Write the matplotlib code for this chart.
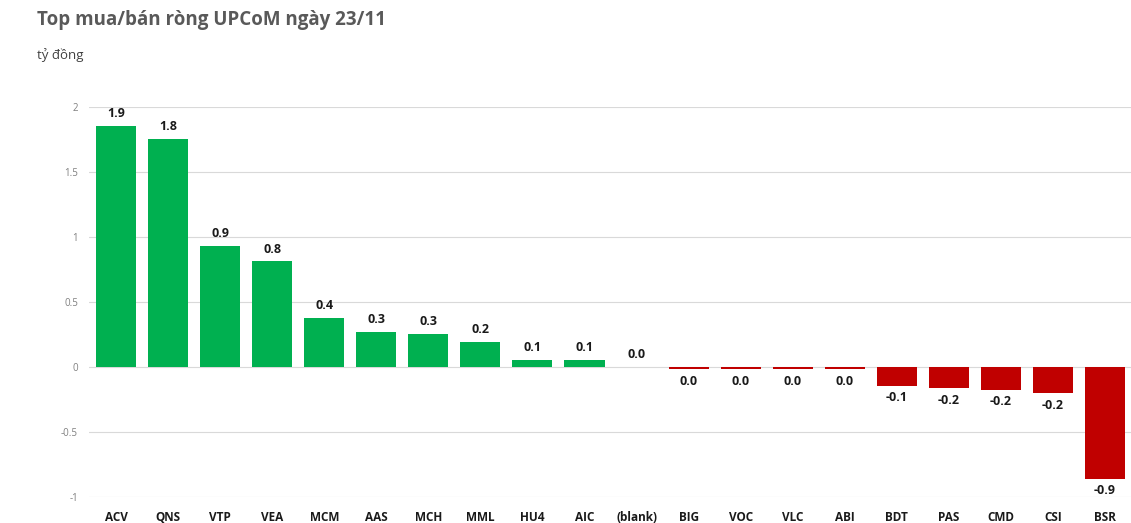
import matplotlib.pyplot as plt

tickers = ['ACV', 'QNS', 'VTP', 'VEA', 'MCM', 'AAS', 'MCH', 'MML', 'HU4', 'AIC',
           '(blank)', 'BIG', 'VOC', 'VLC', 'ABI', 'BDT', 'PAS', 'CMD', 'CSI', 'BSR']
values = [1.856, 1.754, 0.933, 0.815, 0.377, 0.269, 0.254, 0.192, 0.054, 0.054,
          0.0, -0.015, -0.015, -0.015, -0.015, -0.145, -0.165, -0.175, -0.2, -0.86]
yticks = [-1, -0.5, 0, 0.5, 1, 1.5, 2]
ytick_labels = ['-1', '-0.5', '0', '0.5', '1', '1.5', '2']

green = '#00B050'
red = '#C00000'
font = 'Open Sans'

fig = plt.figure(figsize=(11.31, 5.23), dpi=100)
ax = fig.add_axes([0.0787, 0.0497, 0.9213, 0.7457])

x = list(range(len(tickers)))
colors = [green if v >= 0 else red for v in values]
ax.bar(x, values, width=0.77, color=colors, zorder=3)

for xi, v in zip(x, values):
    lab = f"{v:.1f}"
    if lab == '-0.0':
        lab = '0.0'
    if v >= 0:
        ax.annotate(lab, (xi, v), xytext=(0, 4), textcoords='offset points',
                    ha='center', va='bottom', fontsize=9, fontweight='bold',
                    color='#1a1a1a', family=font)
    else:
        ax.annotate(lab, (xi, v), xytext=(0, -4), textcoords='offset points',
                    ha='center', va='top', fontsize=9, fontweight='bold',
                    color='#1a1a1a', family=font)

ax.set_xlim(-0.52, 19.5)
ax.set_ylim(-1, 2)
ax.set_yticks(yticks)
ax.set_yticklabels(ytick_labels, fontsize=7, color='#808080', family=font)
ax.set_xticks(x)
ax.set_xticklabels(tickers, fontsize=8.5, fontweight='bold', color='#1a1a1a', family=font)
ax.tick_params(axis='both', length=0)
ax.tick_params(axis='y', pad=8)
ax.tick_params(axis='x', pad=10)
for side in ax.spines:
    ax.spines[side].set_visible(False)
ax.grid(axis='y', color='#D9D9D9', linewidth=0.8, zorder=0)
ax.set_axisbelow(True)

fig.text(37 / 1131, 1 - 20 / 523, 'Top mua/bán ròng UPCoM ngày 23/11', fontsize=13.5,
         fontweight='bold', color='#595959', family=font, va='center', ha='left')
fig.text(37 / 1131, 1 - 55 / 523, 'tỷ đồng', fontsize=9.5, color='#404040',
         family=font, va='center', ha='left')

fig.savefig('out.png', dpi=100)
